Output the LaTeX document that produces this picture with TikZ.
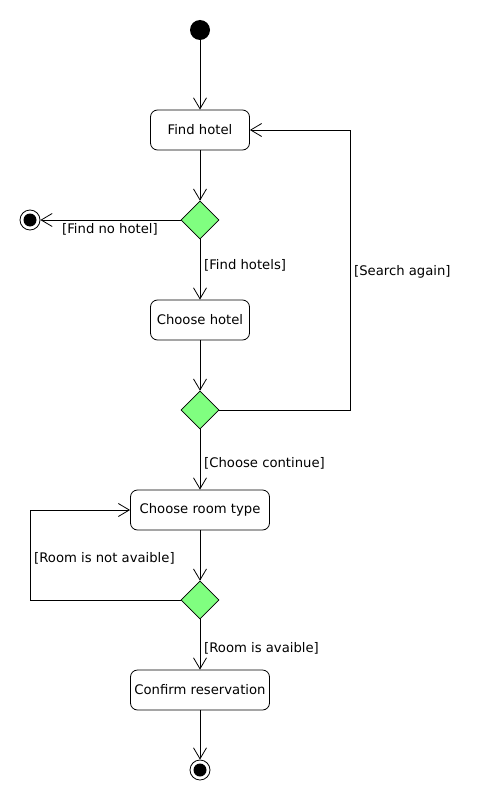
\documentclass[tikz,border=0pt]{standalone}
\usepackage{fontspec}
\setmainfont{DejaVu Sans}
\usetikzlibrary{arrows.meta,shapes.geometric}
\definecolor{dgreen}{RGB}{128,255,128}
\begin{document}
\begin{tikzpicture}[x=1pt,y=-1pt,
  font=\fontsize{13.2}{15}\selectfont,
  act/.style={draw,rounded corners=7pt,minimum height=40pt,inner sep=0pt,line width=0.8pt},
  dec/.style={draw,diamond,fill=dgreen,minimum width=38pt,minimum height=38pt,inner sep=0pt,line width=0.6pt},
  startnode/.style={circle,fill=black,minimum size=20pt,inner sep=0pt},
  endnode/.style={circle,draw,line width=0.8pt,minimum size=20pt,inner sep=0pt,path picture={\fill (path picture bounding box.center) circle (6.5pt);}},
  flow/.style={line width=0.8pt,-{Straight Barb[length=11pt,width=13pt,line width=0.8pt]}},
  lbl/.style={inner sep=0pt,anchor=west}]
\useasboundingbox (0,0) rectangle (480,800);
\node[startnode] (start) at (200,30) {};
\node[act,minimum width=99pt] (find) at (200,130) {Find hotel};
\node[dec] (d1) at (200,220) {};
\node[endnode] (end1) at (30,220) {};
\node[act,minimum width=99pt] (choose) at (200,320) {Choose hotel};
\node[dec] (d2) at (200,410) {};
\node[act,minimum width=139pt] (room) at (200,510) {Choose room type};
\node[dec] (d3) at (200,600) {};
\node[act,minimum width=139pt] (confirm) at (200,690) {Confirm reservation};
\node[endnode] (end2) at (200,770) {};
\coordinate (c1) at (350,410);
\coordinate (c2) at (350,130);
\coordinate (c3) at (30,600);
\coordinate (c4) at (30,510);
\draw[flow] (start) -- (find);
\draw[flow] (find) -- (d1);
\draw[flow] (d1) -- (end1);
\draw[flow] (d1) -- (choose);
\draw[flow] (choose) -- (d2);
\draw[flow] (d2.east) -- (c1) -- (c2) -- (find.east);
\draw[flow] (d2) -- (room);
\draw[flow] (room) -- (d3);
\draw[flow] (d3.west) -- (c3) -- (c4) -- (room.west);
\draw[flow] (d3) -- (confirm);
\draw[flow] (confirm) -- (end2);
\node[lbl] (l1) at (62,229) {[Find no hotel]};
\node[lbl] (l2) at (204,265) {[Find hotels]};
\node[lbl] (l3) at (354,272) {[Search again]};
\node[lbl] (l4) at (204,463) {[Choose continue]};
\node[lbl] (l5) at (34,558) {[Room is not avaible]};
\node[lbl] (l6) at (204,648) {[Room is avaible]};
\end{tikzpicture}
\end{document}
